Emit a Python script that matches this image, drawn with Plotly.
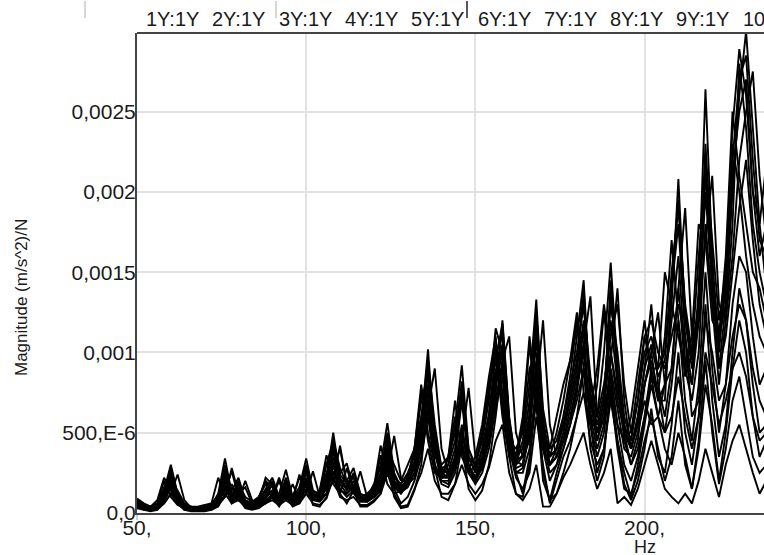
import plotly.graph_objects as go

# Frequency axis (Hz), 2 Hz resolution
freq_hz = list(range(50, 237, 2))  # 94 points: 50 .. 236

# Magnitudes in units of 1E-3 (m/s^2)/N
s01 = [0.08,0.05,0.03,0.05,0.14,0.30,0.12,0.05,0.03,0.03,
       0.03,0.04,0.09,0.22,0.09,0.12,0.06,0.05,0.06,0.09,
       0.14,0.08,0.18,0.08,0.12,0.25,0.11,0.10,0.22,0.50,
       0.22,0.14,0.20,0.10,0.09,0.14,0.22,0.45,0.20,0.14,
       0.18,0.30,0.55,1.02,0.45,0.25,0.22,0.30,0.50,0.30,
       0.20,0.30,0.45,0.75,1.20,0.60,0.30,0.35,0.55,0.90,
       0.45,0.25,0.30,0.45,0.60,0.80,1.00,0.60,0.40,0.55,
       0.90,0.65,0.40,0.35,0.50,0.70,0.55,0.60,0.80,1.20,
       1.60,0.95,0.80,1.40,2.64,1.60,0.90,1.10,1.50,1.90,
       2.20,1.70,1.30,1.10]
s02 = [0.06,0.04,0.02,0.04,0.10,0.22,0.10,0.04,0.02,0.02,
       0.03,0.05,0.12,0.34,0.12,0.08,0.20,0.08,0.05,0.06,
       0.10,0.12,0.27,0.10,0.14,0.20,0.10,0.09,0.15,0.28,
       0.40,0.18,0.12,0.08,0.08,0.10,0.16,0.32,0.18,0.15,
       0.22,0.40,0.70,0.85,0.40,0.22,0.30,0.45,0.80,0.40,
       0.28,0.35,0.55,0.90,0.70,0.40,0.30,0.45,0.80,1.33,
       0.60,0.30,0.35,0.50,0.75,1.10,1.45,0.70,0.45,0.60,
       1.20,0.80,0.50,0.30,0.40,0.60,0.90,0.70,0.80,1.30,
       2.08,1.20,0.90,1.20,2.20,1.50,1.10,1.30,2.00,2.60,
       3.00,2.40,1.80,1.40]
s03 = [0.07,0.05,0.04,0.06,0.16,0.25,0.10,0.05,0.04,0.03,
       0.04,0.05,0.08,0.28,0.14,0.22,0.08,0.06,0.08,0.15,
       0.22,0.10,0.14,0.08,0.10,0.30,0.12,0.10,0.18,0.40,
       0.25,0.31,0.15,0.10,0.12,0.16,0.30,0.56,0.25,0.16,
       0.20,0.28,0.45,0.75,0.50,0.28,0.24,0.35,0.75,0.35,
       0.25,0.40,0.60,1.00,1.10,0.55,0.32,0.30,0.50,1.10,
       0.55,0.35,0.40,0.55,0.70,0.90,1.20,0.80,0.60,1.00,
       1.56,0.90,0.50,0.40,0.60,0.90,1.30,0.80,0.60,0.90,
       1.40,0.90,0.70,1.00,1.80,1.30,0.80,1.20,1.80,2.80,
       2.40,1.80,1.50,1.30]
s04 = [0.05,0.03,0.02,0.03,0.08,0.18,0.08,0.03,0.02,0.02,
       0.02,0.03,0.06,0.18,0.08,0.10,0.05,0.04,0.05,0.07,
       0.12,0.06,0.10,0.06,0.08,0.18,0.08,0.07,0.12,0.30,
       0.15,0.10,0.14,0.07,0.07,0.10,0.15,0.35,0.15,0.06,
       0.10,0.20,0.35,0.60,0.30,0.18,0.16,0.25,0.45,0.25,
       0.18,0.25,0.40,0.65,0.85,0.40,0.22,0.15,0.25,0.60,
       0.30,0.06,0.20,0.35,0.45,0.60,0.75,0.45,0.30,0.40,
       0.70,0.45,0.25,0.10,0.30,0.55,0.80,0.60,0.40,0.30,
       0.50,0.35,0.15,0.40,0.80,0.55,0.20,0.50,0.90,1.20,
       1.00,0.60,0.35,0.45]
s05 = [0.09,0.06,0.04,0.04,0.12,0.20,0.14,0.06,0.04,0.04,
       0.05,0.06,0.10,0.25,0.12,0.18,0.10,0.07,0.10,0.20,
       0.16,0.09,0.22,0.10,0.16,0.34,0.14,0.12,0.25,0.38,
       0.20,0.16,0.25,0.12,0.10,0.18,0.28,0.40,0.30,0.20,
       0.30,0.40,0.60,0.70,0.35,0.30,0.35,0.50,0.80,0.35,
       0.30,0.50,0.80,1.05,0.75,0.45,0.40,0.50,0.90,1.00,
       0.50,0.40,0.60,0.80,0.95,1.15,1.30,0.85,0.60,0.80,
       1.10,1.30,0.80,0.50,0.70,1.10,1.20,1.00,0.90,1.10,
       1.30,1.10,0.60,0.70,1.20,1.00,0.70,0.80,1.10,1.30,
       1.20,0.90,0.70,0.60]
s06 = [0.04,0.02,0.02,0.02,0.06,0.12,0.06,0.02,0.02,0.02,
       0.02,0.02,0.04,0.12,0.06,0.08,0.04,0.03,0.04,0.06,
       0.08,0.05,0.08,0.05,0.06,0.12,0.06,0.05,0.09,0.22,
       0.10,0.08,0.10,0.05,0.05,0.08,0.12,0.25,0.12,0.04,
       0.05,0.15,0.25,0.40,0.20,0.12,0.12,0.18,0.30,0.18,
       0.12,0.18,0.28,0.45,0.55,0.25,0.12,0.08,0.15,0.30,
       0.04,0.04,0.12,0.22,0.30,0.40,0.50,0.30,0.15,0.25,
       0.40,0.06,0.10,0.05,0.15,0.30,0.45,0.30,0.15,0.10,
       0.06,0.12,0.06,0.20,0.40,0.25,0.10,0.30,0.45,0.55,
       0.40,0.25,0.12,0.20]
s07 = [0.07,0.04,0.03,0.04,0.12,0.28,0.11,0.04,0.03,0.03,
       0.03,0.04,0.10,0.30,0.10,0.14,0.07,0.05,0.07,0.22,
       0.18,0.09,0.20,0.09,0.13,0.28,0.13,0.12,0.30,0.45,
       0.20,0.20,0.28,0.12,0.10,0.15,0.25,0.50,0.22,0.18,
       0.25,0.35,0.60,0.95,0.55,0.28,0.30,0.55,0.92,0.40,
       0.30,0.45,0.70,1.15,1.00,0.50,0.35,0.40,0.70,1.25,
       0.65,0.40,0.45,0.60,0.80,1.00,1.30,0.75,0.55,0.75,
       1.30,1.00,0.60,0.45,0.70,1.00,1.10,0.90,1.00,1.50,
       1.90,1.30,1.00,1.30,2.20,1.70,1.20,1.50,2.40,2.89,
       2.60,2.00,1.80,2.18]
s08 = [0.06,0.04,0.03,0.03,0.09,0.24,0.09,0.04,0.03,0.03,
       0.04,0.04,0.07,0.20,0.10,0.16,0.06,0.05,0.06,0.12,
       0.20,0.07,0.16,0.07,0.10,0.30,0.12,0.10,0.20,0.45,
       0.28,0.18,0.22,0.09,0.08,0.12,0.20,0.48,0.24,0.15,
       0.22,0.30,0.50,0.90,0.42,0.22,0.22,0.35,0.70,0.30,
       0.22,0.35,0.55,0.85,1.15,0.55,0.28,0.30,0.60,1.15,
       0.50,0.30,0.35,0.50,0.70,0.90,1.40,0.70,0.45,0.65,
       1.45,0.85,0.45,0.30,0.45,0.80,1.00,0.70,0.70,1.40,
       1.80,1.10,0.80,1.20,2.00,1.40,0.90,1.30,2.10,2.50,
       2.70,2.00,1.60,1.80]
s09 = [0.05,0.03,0.03,0.03,0.07,0.16,0.08,0.03,0.02,0.02,
       0.03,0.03,0.05,0.16,0.07,0.09,0.05,0.04,0.05,0.08,
       0.10,0.06,0.12,0.06,0.07,0.15,0.08,0.08,0.12,0.26,
       0.14,0.12,0.16,0.08,0.08,0.10,0.14,0.30,0.16,0.12,
       0.18,0.22,0.40,0.65,0.30,0.20,0.18,0.28,0.40,0.25,
       0.20,0.30,0.50,0.70,0.90,0.45,0.25,0.25,0.40,0.75,
       0.40,0.30,0.35,0.45,0.55,0.70,0.90,0.60,0.50,0.70,
       1.00,0.75,0.55,0.40,0.55,0.80,0.95,0.75,0.50,0.60,
       0.85,0.60,0.40,0.60,1.00,0.80,0.55,0.70,0.90,1.00,
       0.85,0.60,0.45,0.50]
s10 = [0.07,0.05,0.04,0.08,0.22,0.14,0.06,0.04,0.03,0.03,
       0.03,0.05,0.08,0.14,0.26,0.10,0.06,0.06,0.10,0.18,
       0.10,0.07,0.12,0.10,0.22,0.16,0.09,0.14,0.36,0.22,
       0.14,0.20,0.14,0.09,0.10,0.16,0.42,0.25,0.16,0.14,
       0.20,0.40,0.80,0.50,0.30,0.22,0.35,0.60,0.40,0.28,
       0.35,0.55,0.85,1.10,0.65,0.40,0.35,0.60,1.10,0.70,
       0.45,0.35,0.50,0.70,0.95,1.25,0.90,0.65,0.90,1.30,
       1.00,0.70,0.50,0.50,0.80,1.10,0.90,0.90,1.50,1.30,
       1.10,0.90,1.10,1.80,1.70,1.20,1.10,1.60,2.50,2.10,
       1.80,1.50,1.40,1.20]
s11 = [0.06,0.03,0.02,0.03,0.10,0.20,0.08,0.03,0.02,0.02,
       0.03,0.03,0.06,0.16,0.07,0.12,0.05,0.04,0.05,0.10,
       0.14,0.06,0.14,0.06,0.09,0.22,0.09,0.08,0.16,0.35,
       0.18,0.12,0.18,0.08,0.07,0.10,0.18,0.38,0.18,0.13,
       0.16,0.25,0.45,0.80,0.38,0.20,0.20,0.30,0.55,0.28,
       0.20,0.28,0.45,0.80,1.00,0.45,0.25,0.28,0.50,0.95,
       0.40,0.20,0.30,0.40,0.55,0.75,1.05,0.55,0.35,0.50,
       0.85,0.55,0.30,0.20,0.35,0.60,0.85,0.60,0.50,0.80,
       1.20,0.70,0.45,0.80,1.50,0.90,0.50,0.80,1.30,1.60,
       1.50,1.10,0.80,0.90]
s12 = [0.05,0.04,0.03,0.04,0.11,0.26,0.10,0.04,0.03,0.03,
       0.03,0.04,0.08,0.24,0.10,0.20,0.07,0.05,0.06,0.10,
       0.18,0.08,0.17,0.08,0.11,0.27,0.11,0.09,0.18,0.42,
       0.20,0.15,0.24,0.10,0.09,0.13,0.20,0.42,0.20,0.16,
       0.20,0.28,0.50,0.88,0.40,0.22,0.24,0.32,0.52,0.30,
       0.22,0.32,0.50,0.82,1.05,0.50,0.25,0.12,0.35,0.70,
       0.20,0.08,0.25,0.40,0.55,0.80,1.15,0.55,0.25,0.40,
       0.75,0.40,0.15,0.12,0.25,0.45,0.60,0.40,0.20,0.35,
       0.70,0.30,0.15,0.45,0.95,0.50,0.18,0.40,0.70,0.85,
       0.60,0.35,0.25,0.30]
s13 = [0.06,0.04,0.03,0.03,0.06,0.12,0.24,0.08,0.03,0.02,
       0.02,0.03,0.05,0.10,0.28,0.12,0.16,0.06,0.05,0.08,
       0.10,0.20,0.08,0.18,0.08,0.12,0.26,0.10,0.12,0.20,
       0.42,0.18,0.12,0.26,0.10,0.10,0.14,0.25,0.48,0.22,
       0.18,0.25,0.40,0.65,0.90,0.40,0.25,0.30,0.45,0.78,
       0.35,0.30,0.45,0.70,0.95,1.10,0.50,0.35,0.45,0.75,
       1.20,0.55,0.35,0.45,0.65,0.85,1.05,1.35,0.60,0.55,
       0.95,1.40,0.70,0.40,0.55,0.80,1.00,1.25,0.80,0.90,
       1.40,1.90,1.10,1.20,1.70,2.10,1.30,1.20,1.60,2.20,
       2.50,2.75,2.10,1.70]
s14 = [0.07,0.04,0.03,0.06,0.20,0.10,0.05,0.03,0.02,0.02,
       0.03,0.06,0.22,0.10,0.18,0.08,0.05,0.05,0.09,0.20,
       0.10,0.22,0.10,0.08,0.24,0.12,0.09,0.14,0.32,0.18,
       0.12,0.28,0.14,0.09,0.08,0.14,0.36,0.18,0.12,0.14,
       0.22,0.40,0.75,0.45,0.25,0.22,0.35,0.70,0.35,0.25,
       0.30,0.50,0.75,1.00,0.60,0.35,0.30,0.55,1.05,0.65,
       0.40,0.30,0.40,0.60,0.85,1.20,0.75,0.55,0.80,1.25,
       0.85,0.55,0.45,0.60,0.90,1.20,0.85,0.75,1.10,1.70,
       1.20,0.85,1.00,1.60,2.10,1.40,1.00,1.50,2.30,2.00,
       1.60,1.30,1.10,1.00]
s15 = [0.03,0.02,0.01,0.02,0.07,0.18,0.06,0.02,0.01,0.01,
       0.01,0.02,0.05,0.20,0.06,0.09,0.03,0.02,0.03,0.06,
       0.10,0.04,0.11,0.04,0.06,0.20,0.05,0.04,0.10,0.32,
       0.12,0.06,0.14,0.04,0.04,0.07,0.12,0.30,0.10,0.03,
       0.04,0.14,0.30,0.70,0.28,0.10,0.08,0.18,0.42,0.15,
       0.08,0.14,0.30,0.60,0.95,0.35,0.12,0.10,0.30,0.85,
       0.25,0.08,0.12,0.25,0.40,0.60,0.90,0.40,0.20,0.35,
       0.80,0.45,0.18,0.08,0.20,0.40,0.65,0.35,0.25,0.55,
       1.00,0.50,0.30,0.60,1.30,0.70,0.35,0.55,1.00,1.40,
       1.20,0.80,0.50,0.55]
s16 = [0.08,0.05,0.03,0.04,0.12,0.26,0.11,0.04,0.03,0.02,
       0.03,0.04,0.09,0.26,0.10,0.18,0.07,0.05,0.07,0.14,
       0.18,0.08,0.20,0.09,0.12,0.28,0.12,0.10,0.20,0.46,
       0.24,0.18,0.24,0.10,0.09,0.14,0.22,0.46,0.22,0.18,
       0.24,0.32,0.55,0.92,0.48,0.26,0.26,0.40,0.82,0.34,
       0.26,0.40,0.62,0.95,1.18,0.58,0.32,0.36,0.62,1.20,
       0.55,0.35,0.40,0.55,0.75,0.95,1.35,0.72,0.50,0.70,
       1.35,0.90,0.55,0.40,0.60,0.90,1.05,0.85,0.95,1.45,
       1.95,1.25,0.95,1.30,2.30,1.55,1.05,1.40,2.20,2.70,
       2.85,2.20,1.70,1.60]

series_names = ["1Y:1Y", "2Y:1Y", "3Y:1Y", "4Y:1Y", "5Y:1Y", "6Y:1Y",
                "7Y:1Y", "8Y:1Y", "9Y:1Y", "10Y:1Y", "11Y:1Y", "12Y:1Y",
                "13Y:1Y", "14Y:1Y", "15Y:1Y", "16Y:1Y"]
series_values = [s01, s02, s03, s04, s05, s06, s07, s08,
                 s09, s10, s11, s12, s13, s14, s15, s16]

y_tick_vals = [0, 0.5, 1.0, 1.5, 2.0, 2.5]
y_tick_text = ["0,0", "500,E-6", "0,001", "0,0015", "0,002", "0,0025"]
x_tick_vals = [50, 100, 150, 200]
x_tick_text = ["50,", "100,", "150,", "200,"]

FONT = "Liberation Sans, Arial, sans-serif"
TXT = "#1a1a1a"

fig = go.Figure()
for name, vals in zip(series_names, series_values):
    fig.add_trace(go.Scatter(x=freq_hz, y=vals, mode="lines", name=name,
                             line=dict(color="black", width=1.9),
                             showlegend=False))

W, H = 764, 555
L, R, T, B = 137, 0, 33, 42
PW, PH = W - L - R, H - T - B
fig.update_layout(
    width=W, height=H,
    margin=dict(l=L, r=R, t=T, b=B, autoexpand=False),
    paper_bgcolor="white", plot_bgcolor="white",
    font=dict(family=FONT, size=21, color=TXT),
    xaxis=dict(range=[50, 235.3], tickvals=x_tick_vals, ticktext=x_tick_text,
               showgrid=True, gridcolor="#e2e2e2", gridwidth=1.5,
               showline=True, linecolor="#444444", linewidth=2,
               ticks="outside", ticklen=5, tickcolor="#d0d0d0", tickwidth=1.5,
               ticklabelstandoff=-10, automargin=False,
               zeroline=False, tickfont=dict(size=21, color=TXT)),
    yaxis=dict(range=[0, 2.99], tickvals=y_tick_vals, ticktext=y_tick_text,
               showgrid=True, gridcolor="#e2e2e2", gridwidth=1.5,
               showline=True, linecolor="#444444", linewidth=2,
               ticks="", ticklabelstandoff=-5, automargin=False,
               zeroline=False, tickfont=dict(size=21, color=TXT)),
)

# top border of plot frame
fig.add_shape(type="line", xref="paper", yref="paper", x0=0, x1=1.05, y0=1, y1=1,
              line=dict(color="#444444", width=2))

# series header row
for k, name in enumerate(series_names):
    xpx = 144 + 66.3 * k
    if xpx > W + 10:
        break
    fig.add_annotation(text=name, xref="paper", yref="paper",
                       x=(xpx - L) / PW, y=1 + 14 / PH,
                       xanchor="left", yanchor="middle", showarrow=False,
                       font=dict(size=20, color=TXT, family=FONT))

# axis titles
fig.add_annotation(text="Hz", xref="paper", yref="paper",
                   x=(645 - L) / PW, y=-(547 - (H - B)) / PH,
                   xanchor="center", yanchor="middle", showarrow=False,
                   font=dict(size=18, color=TXT, family=FONT))
fig.add_annotation(text="Magnitude (m/s^2)/N", xref="paper", yref="paper",
                   x=(22 - L) / PW, y=((H - B) - 298) / PH,
                   xanchor="center", yanchor="middle", textangle=-90, showarrow=False,
                   font=dict(size=17, color=TXT, family=FONT))

# small toolbar marks at the very top of the window
for xpx, col in [(85, "#c8c8c8"), (276, "#c8c8c8"), (467, "#222222")]:
    fig.add_shape(type="line", xref="paper", yref="paper",
                  x0=(xpx - L) / PW, x1=(xpx - L) / PW,
                  y0=1 + (T - 1) / PH, y1=1 + (T - 18) / PH,
                  line=dict(color=col, width=1.5))

fig.write_html("out.html", config={"displayModeBar": False},
               post_script="document.body.style.margin='0';")
